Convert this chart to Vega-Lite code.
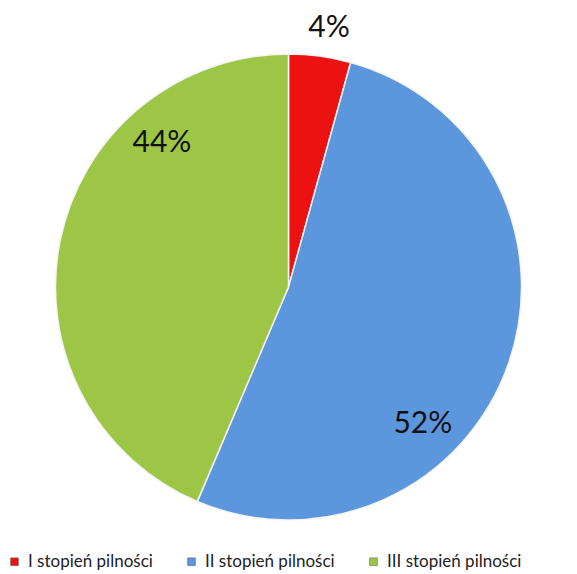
{
  "$schema": "https://vega.github.io/schema/vega-lite/v6.json",
  "width": 577,
  "height": 574,
  "autosize": {"type": "fit", "contains": "padding"},
  "padding": 0,
  "background": "white",
  "view": {"stroke": null},
  "data": {"values": [
    {"kategoria": "I stopień pilności", "udzial": 4.3, "etykieta": "4%"},
    {"kategoria": "II stopień pilności", "udzial": 52.1, "etykieta": "52%"},
    {"kategoria": "III stopień pilności", "udzial": 43.6, "etykieta": "44%"}
  ]},
  "encoding": {
    "theta": {"field": "udzial", "type": "quantitative", "stack": true},
    "order": {"field": "kategoria", "sort": "ascending"},
    "color": {
      "field": "kategoria", "type": "nominal",
      "scale": {"domain": ["I stopień pilności", "II stopień pilności", "III stopień pilności"],
                "range": ["#ec1212", "#5c97de", "#9dc646"]},
      "legend": {
        "title": null, "orient": "none", "legendX": 6, "legendY": 553,
        "direction": "horizontal", "columns": 3, "columnPadding": 30,
        "symbolType": "square", "symbolSize": 60, "symbolStrokeWidth": 0.5, "symbolStrokeColor": "#555",
        "labelFont": "Lato", "labelFontSize": 17, "labelColor": "#222", "labelLimit": 300, "labelOffset": 5
      }
    }
  },
  "layer": [
    {"mark": {"type": "arc", "outerRadius": 233, "stroke": "#f4f4f4", "strokeWidth": 1.5}},
    {"mark": {"type": "text", "radius": 262, "font": "Lato", "fontSize": 30, "align": "center", "baseline": "middle", "thetaOffset": 0.02},
     "encoding": {"detail": {"field": "kategoria"}, "text": {"condition": {"test": "datum.etykieta == '4%'", "field": "etykieta"}, "value": ""}, "color": {"value": "#111"}}},
    {"mark": {"type": "text", "radius": 192, "font": "Lato", "fontSize": 30, "align": "center", "baseline": "middle", "thetaOffset": 0.46},
     "encoding": {"detail": {"field": "kategoria"}, "text": {"condition": {"test": "datum.etykieta == '52%'", "field": "etykieta"}, "value": ""}, "color": {"value": "#111"}}},
    {"mark": {"type": "text", "radius": 192, "font": "Lato", "fontSize": 30, "align": "center", "baseline": "middle", "thetaOffset": 0.65},
     "encoding": {"detail": {"field": "kategoria"}, "text": {"condition": {"test": "datum.etykieta == '44%'", "field": "etykieta"}, "value": ""}, "color": {"value": "#111"}}}
  ]
}
